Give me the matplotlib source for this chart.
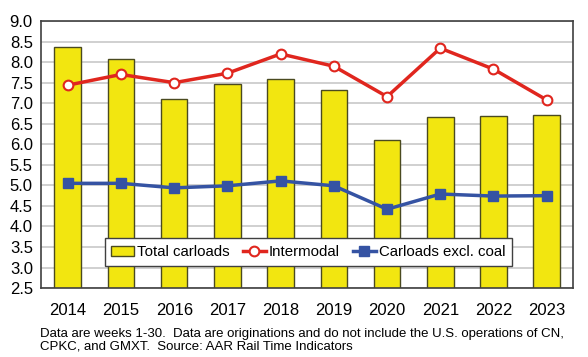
import matplotlib
matplotlib.use("Agg")
import matplotlib.pyplot as plt
import numpy as np

plt.rcParams['font.family'] = ['Liberation Sans', 'DejaVu Sans']

years = ['2014', '2015', '2016', '2017', '2018', '2019', '2020', '2021', '2022', '2023']
total_carloads = [8.38, 8.08, 7.10, 7.47, 7.58, 7.32, 6.10, 6.67, 6.69, 6.71]
intermodal = [7.44, 7.70, 7.50, 7.73, 8.20, 7.90, 7.16, 8.34, 7.83, 7.08]
excl_coal = [5.05, 5.05, 4.94, 4.99, 5.11, 4.99, 4.42, 4.79, 4.74, 4.75]

x = np.arange(len(years))

fig = plt.figure(figsize=(5.88, 3.57), dpi=100)
ax = fig.add_axes([0.07, 0.193, 0.905, 0.748])

b = ax.bar(x, total_carloads, width=0.5, color='#f2e610', edgecolor='#4a4a20',
           linewidth=1.0, label='Total carloads', zorder=2)
l1, = ax.plot(x, intermodal, color='#e0261e', lw=2.5, marker='o', ms=7,
              mfc='white', mec='#e0261e', mew=1.5, label='Intermodal', zorder=3)
l2, = ax.plot(x, excl_coal, color='#3553a3', lw=2.5, marker='s', ms=7,
              mfc='#3553a3', mec='#3553a3', label='Carloads excl. coal', zorder=3)

ax.set_xlim(-0.5, 9.5)
ax.set_ylim(2.5, 9.0)
ax.set_yticks(np.arange(2.5, 9.01, 0.5))
ax.set_yticklabels([f'{v:.1f}' for v in np.arange(2.5, 9.01, 0.5)])
ax.set_xticks(x)
ax.set_xticklabels(years)
ax.tick_params(axis='both', length=0, labelsize=12, colors='black')
ax.tick_params(axis='x', pad=11)
ax.tick_params(axis='y', pad=6)
ax.yaxis.grid(True, color='#c8c8c8', lw=1.2, zorder=0)
ax.set_axisbelow(True)
for s in ax.spines.values():
    s.set_color('#404040')
    s.set_linewidth(1.2)

leg = ax.legend([b, l1, l2], ['Total carloads', 'Intermodal', 'Carloads excl. coal'],
                loc='lower center', bbox_to_anchor=(0.502, 0.055), ncol=3,
                fontsize=10.8, frameon=True, fancybox=False, framealpha=1,
                handlelength=1.5, handletextpad=0.2, columnspacing=0.9, borderpad=0.45)
leg.get_frame().set_edgecolor('#404040')
leg.get_frame().set_linewidth(1.0)

fig.text(0.068, 0.047, 'Data are weeks 1-30.  Data are originations and do not include the U.S. operations of CN,\n'
         'CPKC, and GMXT.  Source: AAR Rail Time Indicators',
         fontsize=9.5, va='center', ha='left', linespacing=1.15)

fig.savefig('out.png', dpi=100)
